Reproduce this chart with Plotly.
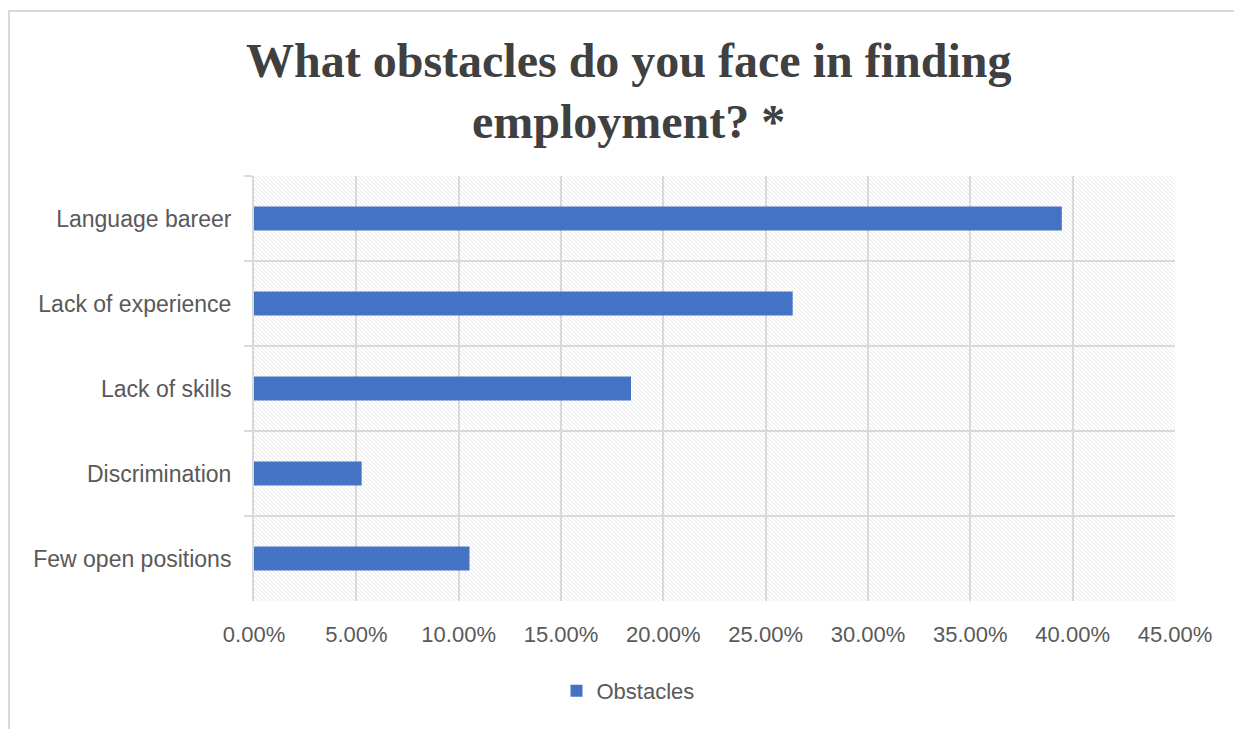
import plotly.graph_objects as go
import base64

categories = ["Language bareer", "Lack of experience", "Lack of skills", "Discrimination", "Few open positions"]
values = [0.3947, 0.2632, 0.1842, 0.0526, 0.1053]
series_name = "Obstacles"
title_lines = ["What obstacles do you face in finding", "employment? *"]

W, H = 1234, 729
L, R, T, B = 254, 59, 176, 128
PW, PH = W - L - R, H - T - B

TEXT = "#595959"
GRID = "#d9d9d9"
BAR = "#4472C4"

# hatch background for plot area (decorative)
svg = f"""<svg xmlns='http://www.w3.org/2000/svg' width='{PW}' height='{PH}' viewBox='0 0 {PW} {PH}'>
<defs><pattern id='p' width='4' height='4' patternUnits='userSpaceOnUse'>
<path d='M-1,-1 L5,5 M3,-1 L5,1 M-1,3 L1,5' stroke='#e8e8e8' stroke-width='1'/>
</pattern></defs>
<rect width='{PW}' height='{PH}' fill='white'/>
<rect width='{PW}' height='{PH}' fill='url(#p)'/>
</svg>"""
src = "data:image/svg+xml;base64," + base64.b64encode(svg.encode()).decode()

fig = go.Figure()
fig.add_trace(go.Bar(
    y=categories, x=values, orientation="h", name=series_name,
    marker=dict(color=BAR, line=dict(width=0)), width=0.28,
    showlegend=True,
))

fig.update_layout(
    width=W, height=H,
    margin=dict(l=L, r=R, t=T, b=B),
    paper_bgcolor="white", plot_bgcolor="rgba(0,0,0,0)",
    font=dict(family="Liberation Sans", size=22, color=TEXT),
    showlegend=True,
    legend=dict(orientation="h", x=(628 - L) / PW, xanchor="center", xref="paper",
                y=-0.162, yanchor="top", font=dict(size=22, color=TEXT),
                itemwidth=30, bgcolor="rgba(0,0,0,0)"),
    xaxis=dict(range=[0, 0.45], dtick=0.05, tickformat=".2%",
               showgrid=True, gridcolor=GRID, gridwidth=2,
               zeroline=False, showline=False,
               ticks="outside", ticklen=14, tickcolor="rgba(0,0,0,0)",
               tickfont=dict(size=22, color=TEXT), fixedrange=True),
    yaxis=dict(autorange="reversed", tickson="boundaries",
               showgrid=True, gridcolor=GRID, gridwidth=2,
               ticks="outside", ticklen=8, tickcolor=GRID, tickwidth=2,
               ticklabelstandoff=16,
               showline=True, linecolor=GRID, linewidth=2,
               tickfont=dict(size=23, color=TEXT), fixedrange=True),
    images=[dict(source=src, xref="paper", yref="paper", x=0, y=1,
                 sizex=1, sizey=1, xanchor="left", yanchor="top",
                 sizing="stretch", layer="below")],
    shapes=[dict(type="rect", xref="paper", yref="paper",
                 x0=(9 - L) / PW, x1=(W + 20 - L) / PW,
                 y0=-(H + 20 - T - PH) / PH, y1=(H - 11 - B) / PH,
                 line=dict(color="#d9d9d9", width=2), fillcolor="rgba(0,0,0,0)",
                 layer="below")],
    annotations=[
        dict(text=f"<b>{title_lines[0]}</b>", xref="paper", yref="paper",
             x=(628 - L) / PW, y=(H - 60 - B) / PH, xanchor="center", yanchor="middle",
             showarrow=False, font=dict(family="Liberation Serif", size=48, color="#404040")),
        dict(text=f"<b>{title_lines[1]}</b>", xref="paper", yref="paper",
             x=(628 - L) / PW, y=(H - 121 - B) / PH, xanchor="center", yanchor="middle",
             showarrow=False, font=dict(family="Liberation Serif", size=48, color="#404040")),
    ],
)

fig.write_html("out.html")
